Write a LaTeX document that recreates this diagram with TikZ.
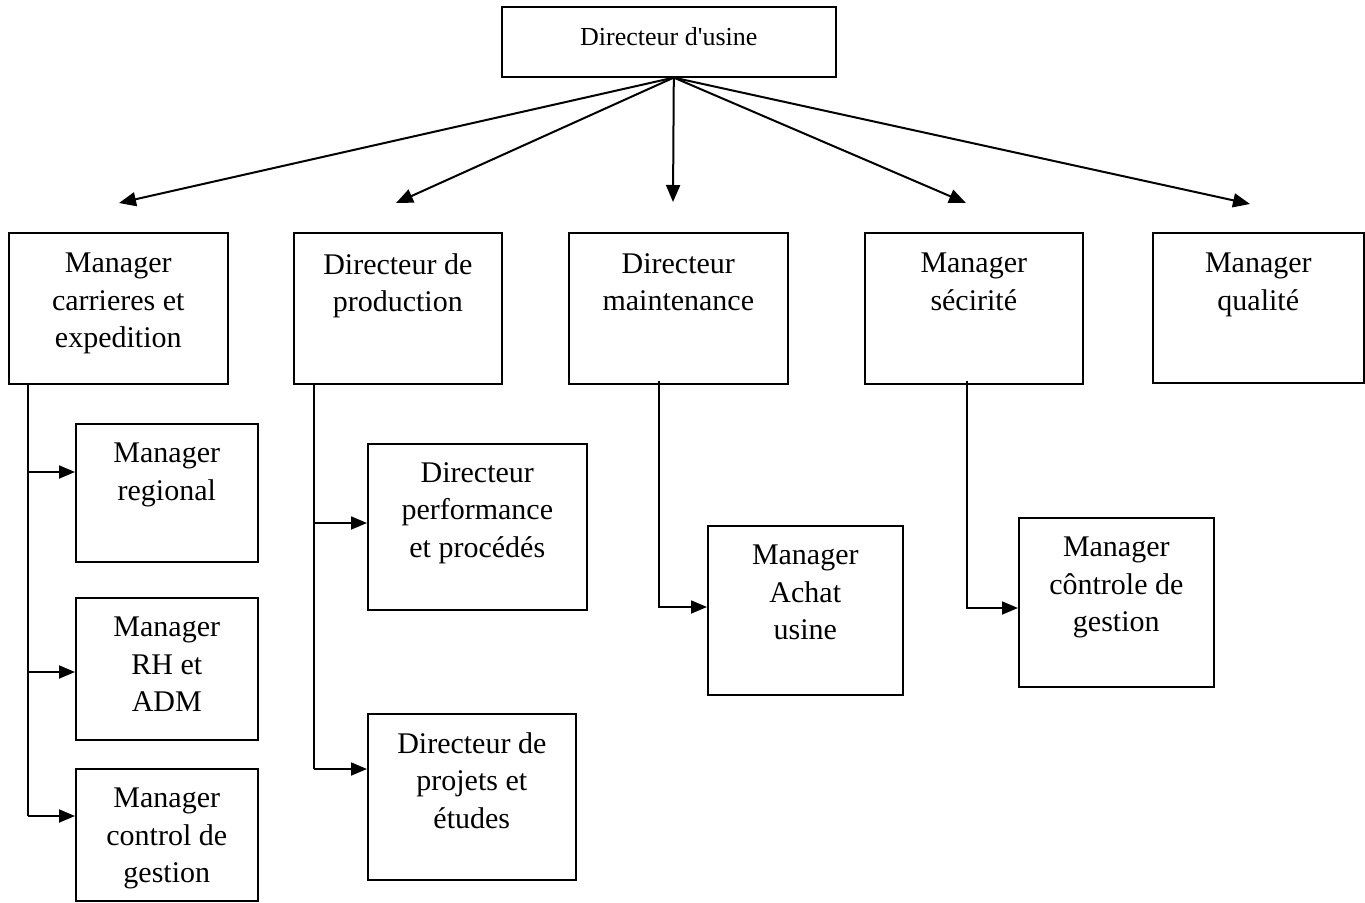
\documentclass[tikz,border=0pt]{standalone}
\usepackage{fontspec}
\setmainfont{Liberation Serif}
\newfontfamily\plainserif{Liberation Serif}[Ligatures=TeXOff]
\usetikzlibrary{arrows.meta}
\tikzset{
  box/.style={draw=black, line width=1.6pt, rectangle, inner sep=0pt, anchor=north west},
  txt/.style={inner sep=0pt, align=center, anchor=north, font=\fontsize{30}{37.5}\selectfont},
  toptxt/.style={inner sep=0pt, align=center, anchor=north, font=\plainserif\fontsize{26}{31}\selectfont},
  link/.style={line width=1.8pt},
  diag/.style={line width=2pt, -{Triangle[length=17pt,width=14pt]}},
  conn/.style={line width=1.8pt, -{Triangle[length=16pt,width=13pt]}}
}
\begin{document}
\begin{tikzpicture}[x=1pt,y=-1pt]
\useasboundingbox (0,0) rectangle (1365,902);
% top
\node[box, minimum width=334pt, minimum height=70pt] (dir) at (501,6) {};
\node[toptxt] (tdir) at ([yshift=-21pt]dir.north) {Directeur d'usine};
% first row
\node[box, minimum width=219pt, minimum height=151pt] (b1) at (8,232) {};
\node[box, minimum width=208pt, minimum height=151pt] (b2) at (293,232) {};
\node[box, minimum width=219pt, minimum height=151pt] (b3) at (568,232) {};
\node[box, minimum width=218pt, minimum height=151pt] (b4) at (864,232) {};
\node[box, minimum width=211pt, minimum height=150pt] (b5) at (1152,232) {};
\node[txt] (t1) at ([yshift=-21pt]b1.north) {Manager\\carrieres et\\expedition};
\node[txt] (t2) at ([yshift=-21pt]b2.north) {Directeur de\\production};
\node[txt] (t3) at ([yshift=-21pt]b3.north) {Directeur\\maintenance};
\node[txt] (t4) at ([yshift=-21pt]b4.north) {Manager\\sécirité};
\node[txt] (t5) at ([yshift=-21pt]b5.north) {Manager\\qualité};
% sub boxes
\node[box, minimum width=182pt, minimum height=138pt] (s1) at (75,423) {};
\node[box, minimum width=182pt, minimum height=142pt] (s2) at (75,597) {};
\node[box, minimum width=182pt, minimum height=132pt] (s3) at (75,768) {};
\node[box, minimum width=219pt, minimum height=166pt] (p1) at (367,443) {};
\node[box, minimum width=208pt, minimum height=166pt] (p2) at (367,713) {};
\node[box, minimum width=195pt, minimum height=169pt] (m1) at (707,525) {};
\node[box, minimum width=195pt, minimum height=169pt] (c1) at (1018,517) {};
\node[txt] (ts1) at ([yshift=-20pt]s1.north) {Manager\\regional};
\node[txt] (ts2) at ([yshift=-20pt]s2.north) {Manager\\RH et\\ADM};
\node[txt] (ts3) at ([yshift=-20pt]s3.north) {Manager\\control de\\gestion};
\node[txt] (tp1) at ([yshift=-19pt]p1.north) {Directeur\\performance\\et procédés};
\node[txt] (tp2) at ([yshift=-19pt]p2.north) {Directeur de\\projets et\\études};
\node[txt] (tm1) at ([yshift=-20pt]m1.north) {Manager\\Achat\\usine};
\node[txt] (tc1) at ([yshift=-20pt]c1.north) {Manager\\côntrole de\\gestion};
% diagonal arrows
\coordinate (o) at ([xshift=5pt]dir.south);
\coordinate (e1) at (119,203);
\coordinate (e2) at (396,203);
\coordinate (e3) at (673,202);
\coordinate (e4) at (966,203);
\coordinate (e5) at (1250,204);
\foreach \e in {e1,e2,e3,e4,e5} \draw[diag] (o) -- (\e);
% branch lines
\coordinate (v1) at ([xshift=20pt,yshift=2pt]b1.south west);
\coordinate (v2) at ([xshift=21pt,yshift=2pt]b2.south west);
\coordinate (v3) at ([xshift=91pt,yshift=4pt]b3.south west);
\coordinate (v4) at ([xshift=103pt,yshift=4pt]b4.south west);
\coordinate (a1) at ([yshift=-49pt]s1.north west);
\coordinate (a2) at ([yshift=-75pt]s2.north west);
\coordinate (a3) at ([yshift=-48pt]s3.north west);
\coordinate (ap1) at ([yshift=-80pt]p1.north west);
\coordinate (ap2) at ([yshift=-56pt]p2.north west);
\coordinate (am1) at ([yshift=-82pt]m1.north west);
\coordinate (ac1) at ([yshift=-91pt]c1.north west);
\draw[link] (v1) -- (v1 |- a3);
\draw[conn] (v1 |- a1) -- (a1);
\draw[conn] (v1 |- a2) -- (a2);
\draw[conn] (v1 |- a3) -- (a3);
\draw[link] (v2) -- (v2 |- ap2);
\draw[conn] (v2 |- ap1) -- (ap1);
\draw[conn] (v2 |- ap2) -- (ap2);
\draw[conn] (v3) |- (am1);
\draw[conn] (v4) |- (ac1);
\end{tikzpicture}
\end{document}
